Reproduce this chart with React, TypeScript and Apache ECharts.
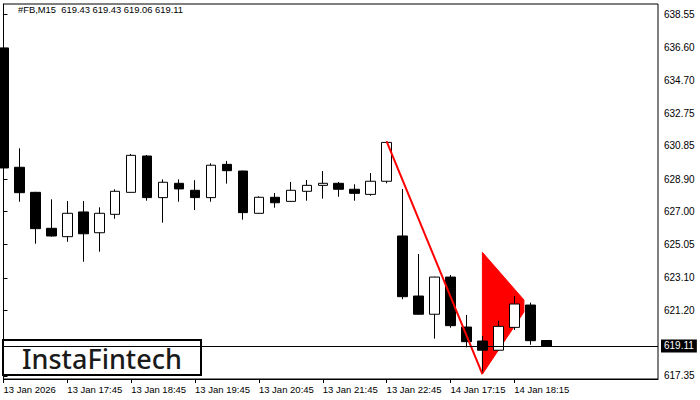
import React, { useEffect, useRef } from "react";
import * as echarts from "echarts";

const categories = [
  "13 Jan 16:45", "13 Jan 17:00", "13 Jan 17:15", "13 Jan 17:30", "13 Jan 17:45",
  "13 Jan 18:00", "13 Jan 18:15", "13 Jan 18:30", "13 Jan 18:45", "13 Jan 19:00",
  "13 Jan 19:15", "13 Jan 19:30", "13 Jan 19:45", "13 Jan 20:00", "13 Jan 20:15",
  "13 Jan 20:30", "13 Jan 20:45", "13 Jan 21:00", "13 Jan 21:15", "13 Jan 21:30",
  "13 Jan 21:45", "13 Jan 22:00", "13 Jan 22:15", "13 Jan 22:30", "13 Jan 22:45",
  "14 Jan 16:30", "14 Jan 16:45", "14 Jan 17:00", "14 Jan 17:15", "14 Jan 17:30",
  "14 Jan 17:45", "14 Jan 18:00", "14 Jan 18:15", "14 Jan 18:30", "14 Jan 18:45",
  "", "", "", "", "", "", "",
];

const opens = [
  636.59, 629.59, 628.12, 626.01, 625.52, 626.97, 625.75, 626.83, 628.12, 630.25,
  627.81, 628.65, 628.24, 627.81, 629.76, 629.37, 626.89, 627.83, 627.59, 628.18,
  628.53, 628.65, 628.30, 628.00, 628.77, 625.56, 622.04, 620.97, 623.15, 620.22,
  619.40, 618.86, 620.20, 621.51, 619.43,
];
const closes = [
  629.55, 628.10, 625.99, 625.56, 626.89, 625.69, 626.89, 628.18, 630.29, 627.81,
  628.71, 628.32, 627.81, 629.71, 629.39, 626.93, 627.83, 627.51, 628.24, 628.53,
  628.65, 628.30, 628.06, 628.77, 631.05, 622.00, 620.97, 623.15, 620.30, 619.36,
  618.86, 620.26, 621.57, 619.42, 619.11,
];
const lows = [
  629.43, 627.57, 625.11, 625.52, 625.22, 624.05, 624.64, 626.57, 628.11, 627.63,
  626.34, 627.57, 627.08, 627.57, 628.63, 626.52, 626.87, 627.22, 627.57, 627.63,
  627.75, 627.86, 627.63, 627.92, 628.65, 621.85, 620.95, 619.54, 620.18, 619.03,
  617.50, 618.84, 620.05, 619.18, 619.06,
];
const highs = [
  638.17, 630.70, 628.15, 627.71, 627.61, 627.61, 627.24, 628.30, 630.37, 630.31,
  628.88, 628.88, 628.83, 629.82, 629.96, 629.39, 627.89, 628.08, 628.73, 628.84,
  629.37, 628.73, 628.59, 629.25, 631.10, 628.32, 624.50, 623.17, 623.27, 620.93,
  619.69, 620.59, 622.04, 621.65, 619.43,
];

const yTicks = [617.35, 621.2, 623.1, 625.05, 627.0, 628.9, 630.85, 632.75, 634.7, 636.6, 638.55];
const xTickIndex = [0, 4, 8, 12, 16, 20, 24, 28, 32];
const xTickText = [
  "13 Jan 2026", "13 Jan 17:45", "13 Jan 18:45", "13 Jan 19:45", "13 Jan 20:45",
  "13 Jan 21:45", "13 Jan 22:45", "14 Jan 17:15", "14 Jan 18:15",
];

const lastPrice = 619.11;
const headerText = "#FB,M15  619.43 619.43 619.06 619.11";

const impulseX = [24, 30];
const impulseY = [631.11, 617.46];
const pennantX = [30, 32.6, 32.6, 30];
const pennantY = [624.6, 621.81, 621.1, 617.46];

const Y_MIN = 617.172;
const Y_MAX = 639.166;

export default function App() {
  const ref = useRef<HTMLDivElement>(null);

  useEffect(() => {
    document.body.style.margin = "0";
    if (!ref.current) return;
    const chart = echarts.init(ref.current, null, { renderer: "svg" });

    const candleData = opens.map((o, i) => [o, closes[i], lows[i], highs[i]]);
    const axisFont = "Liberation Sans";

    chart.setOption({
      animation: false,
      backgroundColor: "#ffffff",
      grid: {
        left: 3.5,
        right: 42,
        top: 4,
        bottom: 21,
        show: true,
        borderColor: "#000",
        borderWidth: 1,
        backgroundColor: "#fff",
      },
      xAxis: [
        {
          type: "category",
          data: categories,
          boundaryGap: false,
          axisLine: { show: true, lineStyle: { color: "#000", width: 1 } },
          axisTick: {
            show: true,
            length: 4,
            lineStyle: { color: "#000" },
            interval: (idx: number) => xTickIndex.indexOf(idx) >= 0,
          },
          axisLabel: {
            show: true,
            interval: (idx: number) => xTickIndex.indexOf(idx) >= 0,
            formatter: (_v: string, idx: number) => {
              const k = xTickIndex.indexOf(idx);
              return k >= 0 ? xTickText[k] : "";
            },
            align: "left",
            margin: 5,
            color: "#000",
            fontSize: 9.5,
            fontFamily: axisFont,
          },
          splitLine: { show: false },
        },
        {
          type: "value",
          min: 0,
          max: categories.length - 1,
          show: false,
        },
      ],
      yAxis: {
        type: "value",
        position: "right",
        min: Y_MIN,
        max: Y_MAX,
        axisLine: { show: true, lineStyle: { color: "#000", width: 1 } },
        axisTick: {
          show: true,
          length: 4,
          lineStyle: { color: "#000" },
          customValues: yTicks,
        },
        axisLabel: {
          show: true,
          customValues: yTicks,
          formatter: (v: number) => v.toFixed(2),
          color: "#000",
          fontSize: 10,
          fontFamily: axisFont,
          margin: 6,
        },
        splitLine: { show: false },
      },
      series: [
        {
          type: "custom",
          xAxisIndex: 1,
          yAxisIndex: 0,
          z: 1,
          silent: true,
          data: pennantX.map((x, i) => [x, pennantY[i]]),
          renderItem: (params: any, api: any) => {
            if (params.dataIndex !== 0) return null;
            const pts = pennantX.map((x, i) => api.coord([x, pennantY[i]]));
            return {
              type: "polygon",
              shape: { points: pts },
              style: { fill: "#ff0000", stroke: "#ff0000", lineWidth: 1 },
            };
          },
        },
        {
          type: "candlestick",
          xAxisIndex: 0,
          yAxisIndex: 0,
          z: 2,
          barWidth: 10,
          clip: true,
          data: candleData,
          itemStyle: {
            color: "#ffffff",
            color0: "#000000",
            borderColor: "#000000",
            borderColor0: "#000000",
            borderWidth: 1,
          },
          markLine: {
            silent: true,
            symbol: ["none", "none"],
            lineStyle: { color: "#000", width: 1, type: "solid" },
            label: {
              position: "end",
              formatter: lastPrice.toFixed(2),
              backgroundColor: "#000",
              color: "#fff",
              padding: [2, 3, 1, 3],
              fontSize: 10,
              fontFamily: axisFont,
              distance: 3,
            },
            data: [{ yAxis: lastPrice }],
          },
        },
        {
          type: "line",
          xAxisIndex: 1,
          yAxisIndex: 0,
          z: 3,
          symbol: "none",
          silent: true,
          data: impulseX.map((x, i) => [x, impulseY[i]]),
          lineStyle: { color: "#ff0000", width: 2 },
        },
      ],
      graphic: [
        {
          type: "text",
          left: 18,
          top: 5,
          z: 10,
          style: {
            text: headerText,
            fill: "#000",
            font: `9.4px "${axisFont}"`,
          },
        },
        {
          type: "group",
          z: 20,
          children: [
            {
              type: "rect",
              shape: { x: 3, y: 340, width: 198, height: 35 },
              style: { fill: "#ffffff", stroke: "#000000", lineWidth: 2 },
            },
            {
              type: "text",
              x: 22,
              y: 358,
              style: {
                text: "InstaFintech",
                fill: "#1a1a1a",
                font: '500 27px "Noto Sans"',
                verticalAlign: "middle",
              },
            },
          ],
        },
      ],
    });

    return () => chart.dispose();
  }, []);

  return (
    <div
      ref={ref}
      style={{ position: "fixed", left: 0, top: 0, width: 700, height: 400 }}
    />
  );
}
